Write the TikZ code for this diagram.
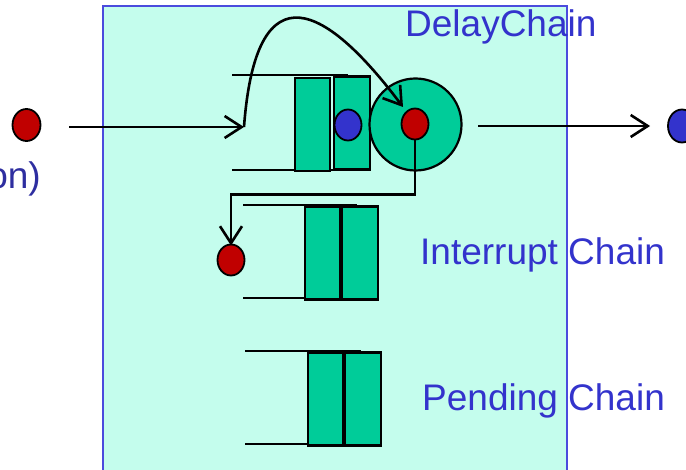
\documentclass[tikz,border=0pt]{standalone}
\usepackage{fontspec}
\setmainfont{Liberation Sans}
\usetikzlibrary{arrows.meta,shapes.geometric}
\definecolor{boxfill}{HTML}{C4FDED}
\definecolor{boxline}{HTML}{4B4BDD}
\definecolor{qgreen}{HTML}{00CC99}
\definecolor{dred}{HTML}{C00000}
\definecolor{dblue}{HTML}{3333CC}
\definecolor{lbl}{HTML}{3333CC}
\definecolor{lbldark}{HTML}{2E2EA0}
\begin{document}
\begin{tikzpicture}[x=1pt,y=-1pt,
  slot/.style={rectangle,draw=black,line width=2.2pt,fill=qgreen,minimum width=35pt,minimum height=93pt,inner sep=0pt,anchor=north west},
  token/.style={ellipse,draw=black,line width=1.8pt,minimum width=27pt,minimum height=31pt,inner sep=0pt},
  rail/.style={line width=2pt},
  flow/.style={line width=2.6pt,-{Straight Barb[length=17pt,width=22pt,line width=2.6pt]}},
  lab/.style={text=lbl,font=\fontsize{37}{40}\selectfont,inner sep=0pt,anchor=base west}
]
\clip (0,0) rectangle (686,470);
% main container
\draw[fill=boxfill,draw=boxline,line width=2pt] (103,6) rectangle (567,490);

% delay chain rails and slots
\draw[rail] (232,75) -- (348,75);
\draw[rail] (232,170) -- (348,170);
\node[slot] (d1) at (293.5,77) {};
\node[slot,minimum width=36pt] (d2) at (332.5,75.5) {};
\node[token,fill=dblue] (bq) at (348,125) {};
\node[circle,draw=black,line width=2.2pt,fill=qgreen,minimum size=92pt,inner sep=0pt] (cpu) at (415.5,124.5) {};
\node[token,fill=dred] (rcur) at (415,124) {};

% interrupt chain
\draw[rail] (243,205) -- (357,205);
\draw[rail] (243,298) -- (357,298);
\node[slot] (i1) at (303.5,205.5) {};
\node[slot,minimum width=36pt] (i2) at (340.5,205.5) {};
\node[token,fill=dred] (rint) at (231,260) {};

% pending chain
\draw[rail] (245,351) -- (361,351);
\draw[rail] (245,444) -- (361,444);
\node[slot] (p1) at (306.5,351.5) {};
\node[slot,minimum width=36pt] (p2) at (343.5,351.5) {};

% outside tokens
\node[token,fill=dred,minimum width=28pt,minimum height=32pt] (rin) at (26.5,125) {};
\node[token,fill=dblue,minimum width=28pt,minimum height=33pt] (bout) at (682,126) {};

% connectors
\coordinate (lstart) at (69,127);
\coordinate (qin) at (244,127);
\coordinate (ctip) at (403,107);
\coordinate (rstart) at (478,126);
\draw[flow] (lstart) -- (qin);
\draw[flow] (qin) .. controls (255,-20) and (315,-10) .. (ctip);
\draw[flow] (rcur.south) -- ++(0,54) -| ([yshift=-2pt]rint.north);
\draw[flow] (rstart) -- ([xshift=-17pt]bout.west);

% labels
\node[lab] (tdelay) at (405,37) {DelayChain};
\node[lab] (tint) at (420,265) {Interrupt Chain};
\node[lab] (tpend) at (422,411) {Pending Chain};
\node[lab,text=lbldark,anchor=base east] (ton) at (41,189) {on)};
\end{tikzpicture}
\end{document}
